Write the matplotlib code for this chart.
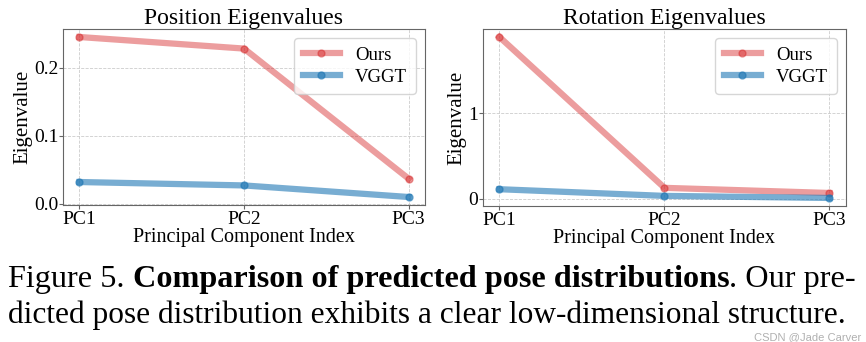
import matplotlib
matplotlib.use('Agg')
import matplotlib.pyplot as plt

# 字体: Times 风格
plt.rcParams['font.family'] = ['Liberation Serif', 'DejaVu Serif']

pcs = ['PC1', 'PC2', 'PC3']
pos_ours = [0.245, 0.228, 0.037]
pos_vggt = [0.032, 0.027, 0.010]
rot_ours = [1.89, 0.13, 0.07]
rot_vggt = [0.114, 0.036, 0.012]

red = '#d62728'
blue = '#1f77b4'

fig = plt.figure(figsize=(8.66, 3.42), dpi=100)
ax1 = fig.add_axes([63 / 866, 1 - 205 / 342, 362 / 866, 176 / 342])
ax2 = fig.add_axes([483 / 866, 1 - 206 / 342, 363 / 866, 177 / 342])


def draw(ax, ours, vggt, title, yticks):
    x = range(len(pcs))
    ax.plot(x, ours, '-o', color=red, alpha=0.45, linewidth=4.5, markersize=5, label='Ours')
    ax.plot(x, vggt, '-o', color=blue, alpha=0.6, linewidth=4.5, markersize=5, label='VGGT')
    ax.set_xticks(list(x))
    ax.set_xticklabels(pcs, fontsize=14)
    ax.set_yticks(yticks)
    ax.tick_params(axis='y', labelsize=14, pad=0.5)
    ax.tick_params(axis='x', pad=1)
    ax.grid(True, linestyle='--', color='#cccccc', linewidth=0.6)
    ax.set_title(title, fontsize=17, pad=3)
    ax.set_xlabel('Principal Component Index', fontsize=14.5, labelpad=0)
    ax.set_ylabel('Eigenvalue', fontsize=15, labelpad=1)
    for s in ax.spines.values():
        s.set_color('#666666')
    ax.tick_params(colors='#666666', labelcolor='black', length=3)
    ax.legend(loc='upper right', fontsize=13.5, handlelength=2.0, borderpad=0.45,
              labelspacing=0.25, framealpha=0.8, edgecolor='#cccccc')


draw(ax1, pos_ours, pos_vggt, 'Position Eigenvalues', [0.0, 0.1, 0.2])
draw(ax2, rot_ours, rot_vggt, 'Rotation Eigenvalues', [0, 1])

# 图注: 普通 + 粗体 混排
fig.canvas.draw()
r = fig.canvas.get_renderer()
parts = [('Figure 5. ', 'normal'), ('Comparison of predicted pose distributions', 'bold'),
         ('. Our pre-', 'normal')]
xpix = 8
for txt, w in parts:
    t = fig.text(xpix / 866, 1 - 287 / 342, txt, fontsize=23.2, fontweight=w, va='baseline')
    bb = t.get_window_extent(r)
    xpix += bb.width
fig.text(8 / 866, 1 - 323 / 342, 'dicted pose distribution exhibits a clear low-dimensional structure.',
         fontsize=22.6, va='baseline')
# 水印
fig.text(861 / 866, 1 - 340 / 342, 'CSDN @Jade Carver', fontsize=8, color='#b0b0b0',
         ha='right', va='baseline', family=['Liberation Sans'])

fig.savefig('out.png', dpi=100)
